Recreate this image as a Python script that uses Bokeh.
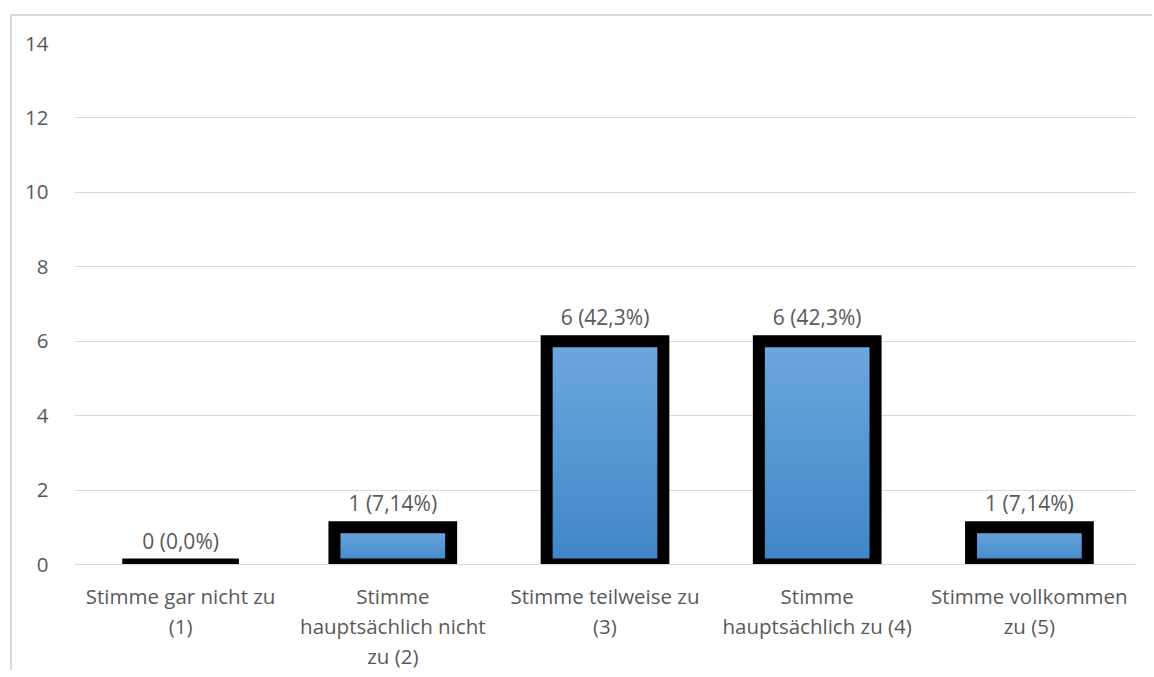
from bokeh.plotting import figure
from bokeh.models import FactorRange, ColumnDataSource, Range1d, SingleIntervalTicker
from bokeh.core.properties import value
from bokeh.embed import file_html
from bokeh.resources import INLINE

categories = [
    "Stimme gar nicht zu\n(1)",
    "Stimme\nhauptsächlich nicht\nzu (2)",
    "Stimme teilweise zu\n(3)",
    "Stimme\nhauptsächlich zu (4)",
    "Stimme vollkommen\nzu (5)",
]
counts = [0, 1, 6, 6, 1]
value_labels = ["0 (0,0%)", "1 (7,14%)", "6 (42,3%)", "6 (42,3%)", "1 (7,14%)"]
y_max = 14
y_step = 2

FONT = "Open Sans"
TXT = "#595959"
GRID = "#d9d9d9"
BAR_W = 0.55

p = figure(
    x_range=FactorRange(*categories),
    y_range=Range1d(0, y_max),
    width=1142, height=656,
    output_backend="svg", toolbar_location=None,
    min_border_left=62, min_border_right=19, min_border_top=27, min_border_bottom=106,
)
p.margin = (14, 0, 0, 10)
p.styles = {"border-left": "2px solid #d9d9d9", "border-top": "2px solid #d9d9d9"}
p.outline_line_color = None
p.background_fill_color = "white"
p.border_fill_color = "white"

# gradient fill (styling only): overlapping slices from each level up to the bar top
N = 40
c_top = (0x6E, 0xA7, 0xDD)
c_bot = (0x3F, 0x86, 0xC7)
gx, gb, gt, gc = [], [], [], []
for cat, v in zip(categories, counts):
    if v <= 0:
        continue
    for k in range(N):
        f0 = k / N
        t = (k + 0.5) / N
        col = tuple(int(round(c_bot[i] + (c_top[i] - c_bot[i]) * t)) for i in range(3))
        gx.append(cat)
        gb.append(v * f0)
        gt.append(v)
        gc.append("#%02x%02x%02x" % col)
p.vbar(x=gx, bottom=gb, top=gt, width=BAR_W, fill_color=gc, line_color=None)

src = ColumnDataSource(dict(x=categories, top=counts, lab=value_labels))
p.vbar(x="x", top="top", bottom=0, width=BAR_W, source=src,
       fill_color=None, line_color="black", line_width=12, line_join="miter")

p.text(x="x", y="top", text="lab", source=src, text_align="center", text_baseline="bottom",
       y_offset=-10, text_font=value(FONT), text_font_size="21px", text_color=TXT)

p.yaxis.ticker = SingleIntervalTicker(interval=y_step)
p.ygrid.grid_line_color = GRID
p.ygrid.grid_line_width = 1
p.xgrid.grid_line_color = None

p.yaxis.axis_line_color = None
p.yaxis.major_tick_line_color = None
p.yaxis.minor_tick_line_color = None
p.yaxis.major_tick_out = 0
p.yaxis.major_label_standoff = 22
p.yaxis.major_label_text_font = FONT
p.yaxis.major_label_text_font_size = "20.5px"
p.yaxis.major_label_text_color = TXT

p.xaxis.axis_line_color = GRID
p.xaxis.axis_line_width = 1
p.xaxis.major_tick_line_color = None
p.xaxis.major_tick_out = 0
p.xaxis.major_label_standoff = 17
p.xaxis.major_label_text_font = FONT
p.xaxis.major_label_text_font_size = "20.5px"
p.xaxis.major_label_text_color = TXT
p.xaxis.major_label_text_line_height = 1.08

open("out.html", "w").write(file_html(p, INLINE))
